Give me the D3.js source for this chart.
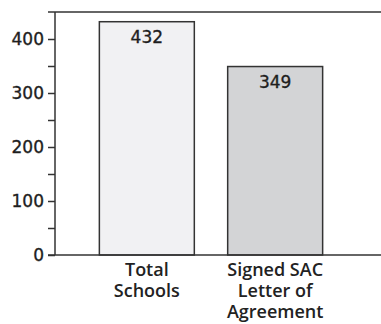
<!DOCTYPE html>
<html>
<head>
<meta charset="utf-8">
<script src="https://cdn.jsdelivr.net/npm/d3@7"></script>
<style>
  html, body { margin: 0; padding: 0; background: #fff; }
  svg { display: block; }
</style>
</head>
<body>
<svg id="chart" width="381" height="324"></svg>
<script>
// Schools data
const categories = [["Total", "Schools"], ["Signed SAC", "Letter of", "Agreement"]];
const values = [432, 349];
const fills = ["#f1f1f3", "#d3d4d6"];
const majorTicks = [0, 100, 200, 300, 400];
const minorTicks = [50, 150, 250, 350];

const svg = d3.select("#chart");
const plotLeft = 55, plotRight = 381, plotTop = 12, plotBottom = 255;

const y = d3.scaleLinear().domain([0, 450]).range([plotBottom, plotTop]);
const x = d3.scaleBand().domain(d3.range(values.length)).range([66, 356]).paddingInner(0.26).paddingOuter(0.26);

const ink = "#333";
const numFont = "'DejaVu Sans', Verdana, sans-serif";

// top rule
svg.append("line").attr("x1", 48).attr("x2", plotRight).attr("y1", y(450)).attr("y2", y(450))
  .attr("stroke", ink).attr("stroke-width", 1.5);

// y axis with major and minor ticks
const yAxis = d3.axisLeft(y).tickValues(majorTicks.concat(minorTicks)).tickSize(7)
  .tickFormat(d => majorTicks.includes(d) ? d : "");
const g = svg.append("g").attr("transform", `translate(${plotLeft},0)`).call(yAxis);
g.select(".domain").remove();
g.selectAll(".tick line").attr("stroke", ink).attr("stroke-width", 1.5);
g.selectAll(".tick text").attr("x", -11).attr("fill", "#1e1e1e")
  .attr("stroke", "#1e1e1e").attr("stroke-width", 0.35)
  .style("font-family", numFont).style("font-size", "17px");
svg.append("line").attr("x1", plotLeft).attr("x2", plotLeft).attr("y1", y(450)).attr("y2", plotBottom)
  .attr("stroke", ink).attr("stroke-width", 1.5);

// bars
svg.selectAll("rect.bar").data(values).enter().append("rect")
  .attr("class", "bar")
  .attr("x", (d, i) => x(i))
  .attr("y", d => y(d))
  .attr("width", x.bandwidth())
  .attr("height", d => plotBottom - y(d))
  .attr("fill", (d, i) => fills[i])
  .attr("stroke", ink).attr("stroke-width", 1.5);

// value labels
svg.selectAll("text.val").data(values).enter().append("text")
  .attr("class", "val")
  .attr("x", (d, i) => x(i) + x.bandwidth() / 2)
  .attr("y", d => y(d) + 21)
  .attr("text-anchor", "middle")
  .attr("fill", "#1e1e1e")
  .attr("stroke", "#1e1e1e").attr("stroke-width", 0.35)
  .style("font-family", numFont)
  .style("font-size", "17px")
  .text(d => d);

// baseline
svg.append("line").attr("x1", 48).attr("x2", plotRight).attr("y1", plotBottom).attr("y2", plotBottom)
  .attr("stroke", ink).attr("stroke-width", 1.5);

// category labels
categories.forEach((lines, i) => {
  const cx = x(i) + x.bandwidth() / 2;
  const t = svg.append("text")
    .attr("x", cx)
    .attr("y", 275.5)
    .attr("text-anchor", "middle")
    .attr("fill", "#222")
    .style("font-family", "'Open Sans', sans-serif")
    .style("font-weight", "600")
    .style("font-size", "18px");
  lines.forEach((ln, j) => {
    t.append("tspan").attr("x", cx).attr("dy", j === 0 ? 0 : 21).text(ln);
  });
});
</script>
</body>
</html>
